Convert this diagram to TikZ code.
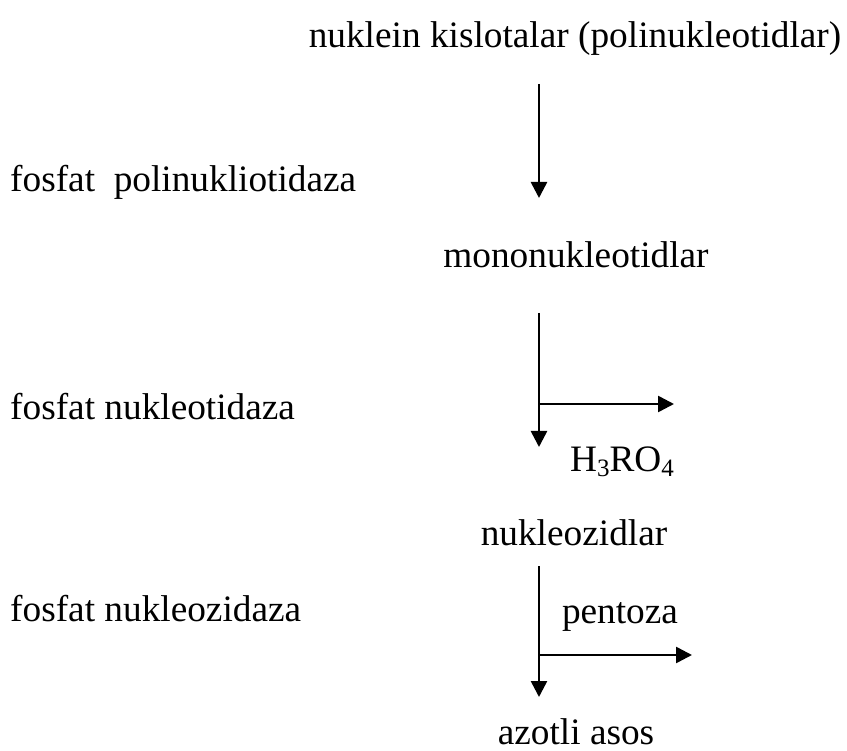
\documentclass[tikz,border=0pt]{standalone}
\usepackage{fontspec}
\setmainfont{Liberation Serif}
\usetikzlibrary{arrows.meta}
\begin{document}
\begin{tikzpicture}[x=1pt,y=-1pt,
  lbl/.style={inner sep=0pt,font=\fontsize{37.3}{44}\selectfont},
  arr/.style={line width=2.6pt,-{Triangle[length=16pt,width=16pt]}}]
\useasboundingbox (0,0) rectangle (847,751);
\fill[white] (0,0) rectangle (847,751);
% texts
\node[lbl,anchor=base] (nk) at (575,48) {nuklein kislotalar (polinukleotidlar)};
\node[lbl,anchor=base west] (e1) at (10,192) {fosfat\ \ polinukliotidaza};
\node[lbl,anchor=base] (mn) at (576,268) {mononukleotidlar};
\node[lbl,anchor=base west] (e2) at (10,420) {fosfat nukleotidaza};
\node[lbl,anchor=base] (hp) at (622,472) {H\raisebox{-0.12em}{\fontsize{25}{30}\selectfont 3}RO\raisebox{-0.12em}{\fontsize{25}{30}\selectfont 4}};
\node[lbl,anchor=base] (nz) at (574,545) {nukleozidlar};
\node[lbl,anchor=base west] (e3) at (10,621) {fosfat nukleozidaza};
\node[lbl,anchor=base] (pt) at (620,623) {pentoza};
\node[lbl,anchor=base] (aa) at (576,744) {azotli asos};
% arrow coordinates
\coordinate (a1s) at (539,84);
\coordinate (a1e) at (539,198);
\coordinate (a2s) at (539,313);
\coordinate (a2e) at (539,447);
\coordinate (b2s) at (539,404);
\coordinate (b2e) at (674,404);
\coordinate (a3s) at (539,566);
\coordinate (a3e) at (539,697);
\coordinate (b3s) at (539,655);
\coordinate (b3e) at (692,655);
\draw[arr] (a1s) -- (a1e);
\draw[arr] (a2s) -- (a2e);
\draw[arr] (b2s) -- (b2e);
\draw[arr] (a3s) -- (a3e);
\draw[arr] (b3s) -- (b3e);
\end{tikzpicture}
\end{document}
